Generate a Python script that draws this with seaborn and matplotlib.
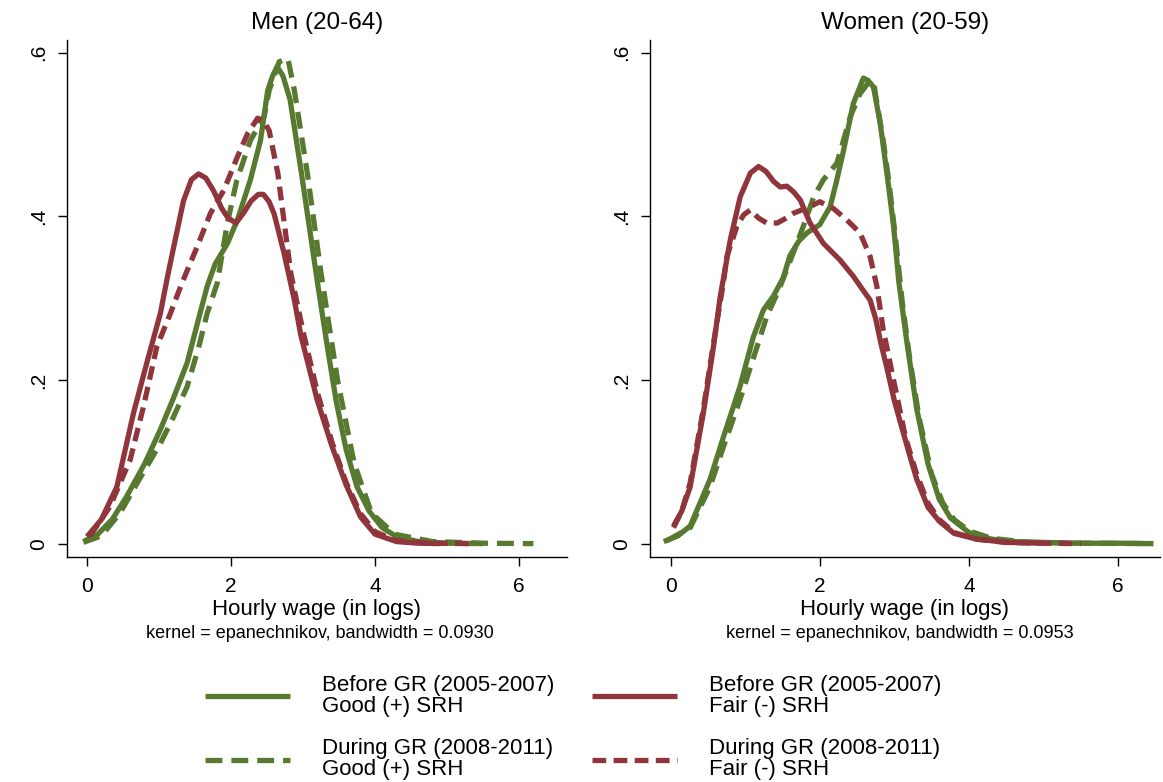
import matplotlib
matplotlib.use("Agg")
import matplotlib.pyplot as plt
from matplotlib.lines import Line2D
import numpy as np
import pandas as pd
import seaborn as sns

# ---------------- data ----------------
series_labels = [
    "Before GR (2005-2007)\nGood (+) SRH",
    "During GR (2008-2011)\nGood (+) SRH",
    "Before GR (2005-2007)\nFair (-) SRH",
    "During GR (2008-2011)\nFair (-) SRH",
]
panel_titles = ["Men (20-64)", "Women (20-59)"]
notes = ["kernel = epanechnikov, bandwidth = 0.0930",
         "kernel = epanechnikov, bandwidth = 0.0953"]
x_ticks = [0, 2, 4, 6]
x_tick_labels = ["0", "2", "4", "6"]
y_ticks = [0, 0.2, 0.4, 0.6]
y_tick_labels = ["0", ".2", ".4", ".6"]

# Men: before GR, good SRH
men_bg_x = [-0.05, 0.15, 0.35, 0.55, 0.8, 1.02, 1.2, 1.39, 1.55, 1.67, 1.78, 1.95, 2.09, 2.27, 2.41,
            2.51, 2.58, 2.64, 2.72, 2.82, 2.98, 3.1, 3.2, 3.34, 3.46, 3.6, 3.75, 3.92, 4.1, 4.3,
            4.6, 5.0, 5.5]
men_bg_y = [0.003, 0.012, 0.03, 0.058, 0.098, 0.14, 0.178, 0.221, 0.275, 0.315, 0.342, 0.367, 0.396,
            0.445, 0.493, 0.554, 0.572, 0.583, 0.572, 0.543, 0.452, 0.38, 0.32, 0.24, 0.175, 0.115,
            0.07, 0.04, 0.02, 0.009, 0.003, 0.001, 0.0005]
# Men: during GR, good SRH
men_dg_x = [-0.05, 0.2, 0.46, 0.7, 1.02, 1.2, 1.39, 1.55, 1.67, 1.81, 1.95, 2.08, 2.27, 2.46, 2.53,
            2.67, 2.79, 2.88, 3.06, 3.25, 3.48, 3.71, 3.95, 4.27, 4.8, 5.5, 6.2]
men_dg_y = [0.002, 0.01, 0.038, 0.075, 0.123, 0.155, 0.192, 0.24, 0.282, 0.319, 0.392, 0.444, 0.493,
            0.522, 0.554, 0.589, 0.593, 0.554, 0.453, 0.331, 0.2, 0.099, 0.038, 0.012, 0.003, 0.001,
            0.0005]
# Men: before GR, fair SRH
men_bf_x = [0.0, 0.2, 0.415, 0.646, 0.83, 1.02, 1.11, 1.2, 1.34, 1.45, 1.55, 1.65, 1.76, 1.87, 1.96,
            2.07, 2.18, 2.28, 2.38, 2.45, 2.53, 2.6, 2.74, 2.88, 2.97, 3.2, 3.4, 3.6, 3.8, 4.0, 4.3,
            4.6, 4.9]
men_bf_y = [0.009, 0.03, 0.07, 0.16, 0.221, 0.282, 0.323, 0.361, 0.419, 0.445, 0.452, 0.447, 0.431,
            0.41, 0.398, 0.392, 0.405, 0.419, 0.427, 0.427, 0.418, 0.403, 0.354, 0.298, 0.255, 0.175,
            0.12, 0.072, 0.033, 0.012, 0.003, 0.001, 0.0005]
# Men: during GR, fair SRH
men_df_x = [0.04, 0.2, 0.32, 0.6, 0.785, 0.97, 1.16, 1.32, 1.53, 1.715, 1.9, 2.09, 2.23, 2.37, 2.45,
            2.53, 2.65, 2.74, 2.83, 3.0, 3.2, 3.4, 3.6, 3.8, 4.0, 4.3, 4.8, 5.3]
men_df_y = [0.01, 0.03, 0.046, 0.103, 0.168, 0.241, 0.282, 0.319, 0.363, 0.404, 0.432, 0.473, 0.501,
            0.52, 0.517, 0.505, 0.453, 0.392, 0.331, 0.26, 0.185, 0.125, 0.075, 0.037, 0.015, 0.004,
            0.001, 0.0005]

# Women: before GR, good SRH
wom_bg_x = [-0.09, 0.1, 0.264, 0.53, 0.71, 0.93, 1.11, 1.246, 1.38, 1.51, 1.6, 1.72, 1.83, 2.0, 2.14,
            2.23, 2.32, 2.45, 2.585, 2.65, 2.72, 2.81, 2.9, 2.99, 3.06, 3.17, 3.3, 3.45, 3.6, 3.75,
            4.0, 4.3, 4.6, 5.0, 5.5, 6.0, 6.47]
wom_bg_y = [0.003, 0.01, 0.022, 0.079, 0.131, 0.192, 0.253, 0.286, 0.303, 0.325, 0.352, 0.37, 0.38,
            0.39, 0.412, 0.445, 0.481, 0.538, 0.569, 0.566, 0.558, 0.514, 0.453, 0.388, 0.32, 0.245,
            0.165, 0.098, 0.055, 0.032, 0.014, 0.006, 0.003, 0.002, 0.001, 0.001, 0.0005]
# Women: during GR, good SRH
wom_dg_x = [-0.05, 0.264, 0.53, 0.71, 0.93, 1.16, 1.29, 1.45, 1.6, 1.78, 1.92, 2.05, 2.23, 2.41, 2.54,
            2.64, 2.72, 2.85, 2.93, 3.02, 3.1, 3.2, 3.33, 3.5, 3.65, 3.8, 4.0, 4.3, 4.8, 5.5, 6.47]
wom_dg_y = [0.004, 0.02, 0.07, 0.119, 0.176, 0.241, 0.278, 0.31, 0.345, 0.388, 0.424, 0.445, 0.465,
            0.522, 0.55, 0.562, 0.564, 0.493, 0.44, 0.37, 0.3, 0.23, 0.155, 0.085, 0.05, 0.03, 0.016,
            0.007, 0.002, 0.001, 0.0005]
# Women: before GR, fair SRH
wom_bf_x = [0.04, 0.15, 0.264, 0.44, 0.576, 0.666, 0.8, 0.934, 1.07, 1.18, 1.28, 1.38, 1.47, 1.56,
            1.65, 1.74, 1.87, 2.05, 2.27, 2.45, 2.58, 2.675, 2.75, 2.82, 2.9, 3.0, 3.07, 3.2, 3.3,
            3.45, 3.6, 3.8, 4.1, 4.5, 5.0]
wom_bf_y = [0.022, 0.04, 0.07, 0.16, 0.241, 0.302, 0.371, 0.424, 0.453, 0.461, 0.455, 0.443, 0.436,
            0.437, 0.43, 0.42, 0.392, 0.367, 0.347, 0.327, 0.31, 0.298, 0.275, 0.245, 0.215, 0.175,
            0.152, 0.11, 0.079, 0.045, 0.028, 0.013, 0.006, 0.002, 0.001]
# Women: during GR, fair SRH
wom_df_x = [0.04, 0.15, 0.264, 0.44, 0.576, 0.71, 0.755, 0.89, 0.98, 1.07, 1.18, 1.29, 1.43, 1.55,
            1.65, 1.87, 2.0, 2.18, 2.36, 2.54, 2.675, 2.765, 2.85, 2.99, 3.15, 3.3, 3.45, 3.6, 3.8,
            4.1, 4.5, 5.0, 5.5]
wom_df_y = [0.02, 0.04, 0.075, 0.165, 0.245, 0.32, 0.351, 0.388, 0.402, 0.408, 0.398, 0.392, 0.392,
            0.398, 0.404, 0.412, 0.418, 0.41, 0.396, 0.38, 0.351, 0.315, 0.262, 0.2, 0.13, 0.085,
            0.05, 0.03, 0.014, 0.006, 0.002, 0.001, 0.0005]

# ---------------- build long table ----------------
curves = {
    panel_titles[0]: [(men_bg_x, men_bg_y), (men_dg_x, men_dg_y), (men_bf_x, men_bf_y), (men_df_x, men_df_y)],
    panel_titles[1]: [(wom_bg_x, wom_bg_y), (wom_dg_x, wom_dg_y), (wom_bf_x, wom_bf_y), (wom_df_x, wom_df_y)],
}
frames = []
for panel, lst in curves.items():
    for lab, (xs, ys) in zip(series_labels, lst):
        frames.append(pd.DataFrame({"x": xs, "y": ys, "series": lab, "panel": panel}))
df = pd.concat(frames, ignore_index=True)

# ---------------- style ----------------
sns.set_theme(style="white")
plt.rcParams["font.family"] = ["Liberation Sans", "DejaVu Sans"]
plt.rcParams["text.color"] = "black"
plt.rcParams["axes.labelcolor"] = "black"
plt.rcParams["xtick.color"] = "black"
plt.rcParams["ytick.color"] = "black"

GREEN = "#587A30"
RED = "#90353B"
palette = {series_labels[0]: GREEN, series_labels[1]: GREEN,
           series_labels[2]: RED, series_labels[3]: RED}
dash_map = {series_labels[0]: "", series_labels[1]: (3.2, 1.7),
            series_labels[2]: "", series_labels[3]: (2.6, 1.4)}
LW = 3.8

fig = plt.figure(figsize=(11.63, 7.82), dpi=100)
ax_pos = [
    [66.7 / 1163, 1 - 557.3 / 782, (567 - 66.7) / 1163, (557.3 - 40) / 782],
    [649.5 / 1163, 1 - 557.3 / 782, (1160 - 649.5) / 1163, (557.3 - 40) / 782],
]
xlims = [(-0.282, 6.667), (-0.2815, 6.56)]
note_x = [320 / 1163, 900 / 1163]

for i, panel in enumerate(panel_titles):
    ax = fig.add_axes(ax_pos[i])
    sub = df[df["panel"] == panel]
    sns.lineplot(data=sub, x="x", y="y", hue="series", style="series",
                 hue_order=series_labels, style_order=series_labels,
                 palette=palette, dashes=dash_map, linewidth=LW,
                 estimator=None, sort=True, legend=False, ax=ax)
    for ln in ax.get_lines():
        ln.set_solid_capstyle("butt")
    ax.set_xlim(*xlims[i])
    ax.set_ylim(-0.0162, 0.6155)
    ax.set_xticks(x_ticks)
    ax.set_xticklabels(x_tick_labels)
    ax.set_yticks(y_ticks)
    ax.set_yticklabels(y_tick_labels, rotation=90, va="center")
    ax.tick_params(axis="both", which="both", bottom=True, left=True, direction="out",
                   length=6.5, width=1.0, color="black", labelsize=15, labelcolor="black")
    ax.tick_params(axis="x", pad=8)
    ax.tick_params(axis="y", pad=7)
    for s in ["top", "right"]:
        ax.spines[s].set_visible(False)
    for s in ["left", "bottom"]:
        ax.spines[s].set_color("black")
        ax.spines[s].set_linewidth(1.0)
    ax.set_xlabel("Hourly wage (in logs)", fontsize=16, labelpad=1.5, color="black")
    ax.set_ylabel("")
    ax.set_title(panel, fontsize=17.5, pad=8.0, color="black")
    fig.text(note_x[i], 1 - 634 / 782, notes[i], ha="center", va="center", fontsize=13,
             color="black")

handles = [Line2D([0], [0], color=palette[l], lw=LW, solid_capstyle="butt") for l in series_labels]
for h, l in zip(handles, series_labels):
    if dash_map[l] != "":
        h.set_dashes(dash_map[l])
leg = fig.legend(handles, series_labels, ncol=2, loc="upper left",
                 bbox_to_anchor=(205 / 1163, 1 - 675 / 782), frameon=False, fontsize=16,
                 handlelength=3.83, handletextpad=1.44, columnspacing=1.7, labelspacing=0.96,
                 borderpad=0, borderaxespad=0)
for t in leg.get_texts():
    t.set_linespacing(1.0)
    t.set_color("black")

fig.savefig("out.png", dpi=100, facecolor="white")
